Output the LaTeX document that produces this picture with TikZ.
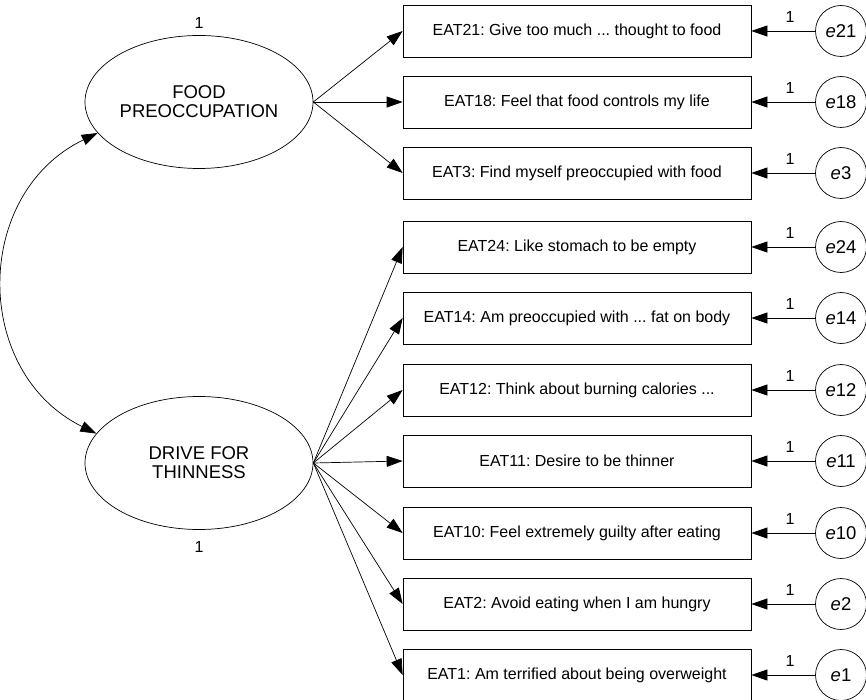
\documentclass[tikz,border=0pt]{standalone}
\usepackage{fontspec}
\setmainfont{Liberation Sans}
\usetikzlibrary{arrows.meta,shapes.geometric}
\frenchspacing

\tikzset{
    latent/.style={draw, ellipse, minimum width=228pt, minimum height=133pt, inner sep=0pt, align=center, font=\fontsize{18.5}{19}\selectfont},
    item/.style={draw, rectangle, minimum width=348pt, minimum height=52pt, inner sep=0pt, font=\fontsize{16}{17}\selectfont},
    err/.style={draw, circle, minimum size=51pt, inner sep=0pt, font=\fontsize{18.5}{19}\selectfont},
    num/.style={inner sep=0pt, font=\fontsize{16}{18}\selectfont},
    load/.style={-{Triangle[length=16pt,width=11pt]}},
    covar/.style={{Triangle[length=16pt,width=11pt]}-{Triangle[length=16pt,width=11pt]}},
}

\begin{document}
\begin{tikzpicture}[x=1pt, y=-1pt, line width=0.7pt]
    \useasboundingbox (0,0) rectangle (866,700);

    % Latent factors
    \node[latent] (food) at (199,102) {FOOD\\PREOCCUPATION};
    \node[latent] (drive) at (199,463) {DRIVE FOR\\THINNESS};
    \node[num] (vfood) at (199,23) {1};
    \node[num] (vdrive) at (199,547) {1};

    % Items with their error terms
    \foreach \n/\y/\txt in {21/31/{EAT21: Give too much ... thought to food},
                            18/102/{EAT18: Feel that food controls my life},
                            3/173/{EAT3: Find myself preoccupied with food},
                            24/247/{EAT24: Like stomach to be empty},
                            14/318/{EAT14: Am preoccupied with ... fat on body},
                            12/390/{EAT12: Think about burning calories ...},
                            11/461/{EAT11: Desire to be thinner},
                            10/533/{EAT10: Feel extremely guilty after eating},
                            2/604/{EAT2: Avoid eating when I am hungry},
                            1/675/{EAT1: Am terrified about being overweight}} {
        \node[item] (i\n) at (577,\y) {\txt};
        \node[err] (e\n) at (841,\y) {\textit{e}\n};
        \draw[load] (e\n) -- (i\n);
        \node[num] (w\n) at (790,\y-14) {1};
    }

    % Loadings
    \foreach \n in {21,18,3} \draw[load] (food.east) -- (i\n.west);
    \foreach \n in {24,14,12,11,10,2,1} \draw[load] (drive.east) -- (i\n.west);

    % Covariance
    \draw[covar] (food.197) to[bend right=64, looseness=1.18] (drive.164);
\end{tikzpicture}
\end{document}
